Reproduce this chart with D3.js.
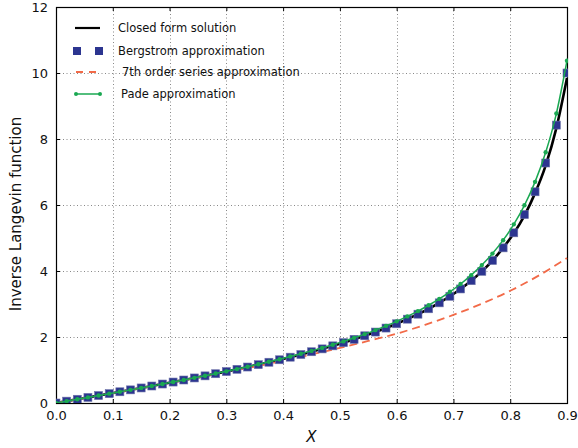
<!DOCTYPE html>
<html>
<head>
<meta charset="utf-8">
<script src="https://cdn.jsdelivr.net/npm/d3@7"></script>
<style>
  body { margin: 0; background: #fff; }
  svg { display: block; font-family: "DejaVu Sans", Verdana, sans-serif; }
</style>
</head>
<body>
<div id="chart"></div>
<script>
// sample points (x = i * 0.01875)
var xPts = [0, 0.01875, 0.0375, 0.05625, 0.075, 0.09375, 0.1125, 0.13125, 0.15, 0.16875,
  0.1875, 0.20625, 0.225, 0.24375, 0.2625, 0.28125, 0.3, 0.31875, 0.3375, 0.35625,
  0.375, 0.39375, 0.4125, 0.43125, 0.45, 0.46875, 0.4875, 0.50625, 0.525, 0.54375,
  0.5625, 0.58125, 0.6, 0.61875, 0.6375, 0.65625, 0.675, 0.69375, 0.7125, 0.73125,
  0.75, 0.76875, 0.7875, 0.80625, 0.825, 0.84375, 0.8625, 0.88125, 0.9];

var closedForm = [0, 0.056, 0.113, 0.169, 0.226, 0.283, 0.340, 0.398, 0.456, 0.515,
  0.575, 0.635, 0.697, 0.759, 0.822, 0.887, 0.953, 1.021, 1.090, 1.161,
  1.235, 1.310, 1.388, 1.469, 1.553, 1.641, 1.732, 1.828, 1.930, 2.037,
  2.150, 2.271, 2.401, 2.540, 2.691, 2.855, 3.035, 3.234, 3.456, 3.706,
  3.990, 4.318, 4.700, 5.140, 5.680, 6.360, 7.200, 8.330, 9.850];

var bergstrom = [0, 0.056, 0.113, 0.169, 0.226, 0.283, 0.340, 0.398, 0.456, 0.515,
  0.575, 0.635, 0.697, 0.759, 0.822, 0.887, 0.953, 1.021, 1.090, 1.161,
  1.235, 1.310, 1.388, 1.469, 1.553, 1.640, 1.732, 1.828, 1.930, 2.037,
  2.150, 2.271, 2.401, 2.540, 2.691, 2.855, 3.035, 3.234, 3.456, 3.706,
  3.990, 4.318, 4.701, 5.157, 5.710, 6.400, 7.273, 8.421, 10.000];

var pade = [0, 0.056, 0.113, 0.169, 0.226, 0.283, 0.340, 0.398, 0.457, 0.516,
  0.576, 0.637, 0.699, 0.762, 0.826, 0.892, 0.959, 1.028, 1.099, 1.172,
  1.248, 1.326, 1.407, 1.491, 1.579, 1.670, 1.766, 1.867, 1.975, 2.088,
  2.208, 2.337, 2.475, 2.624, 2.785, 2.962, 3.155, 3.369, 3.607, 3.875,
  4.179, 4.528, 4.934, 5.414, 5.991, 6.701, 7.598, 8.771, 10.374];

// 7th order series
var seriesX = [0, 0.1, 0.2, 0.3, 0.35, 0.4, 0.45, 0.5, 0.55, 0.6, 0.65, 0.7, 0.75, 0.8, 0.85, 0.9];
var seriesY = [0, 0.30, 0.61, 0.94, 1.10, 1.28, 1.47, 1.67, 1.88, 2.10, 2.37, 2.67, 3.01, 3.40, 3.86, 4.39];

var xTicks = [0, 0.1, 0.2, 0.3, 0.4, 0.5, 0.6, 0.7, 0.8, 0.9];
var yTicks = [0, 2, 4, 6, 8, 10, 12];

var legendLabels = ["Closed form solution", "Bergstrom approximation",
  "7th order series approximation", "Pade approximation"];

var colBlack = "#000", colBlue = "#2c3590", colRed = "#f26a48", colGreen = "#1aa852";

var W = 578, H = 448;
var margin = {top: 7, right: 11, bottom: 45, left: 56},
    width = W - margin.left - margin.right,
    height = H - margin.top - margin.bottom;

var svg = d3.select("#chart")
  .append("svg")
    .attr("width", W)
    .attr("height", H);

var g = svg.append("g")
    .attr("transform", "translate(" + margin.left + "," + margin.top + ")");

var x = d3.scaleLinear().domain([0, 0.9]).range([0, width]);
var y = d3.scaleLinear().domain([0, 12]).range([height, 0]);

// dotted grid
g.append("g")
  .selectAll("line")
  .data(xTicks.slice(1, -1))
  .join("line")
    .attr("x1", d => Math.round(x(d)) + 0.5).attr("x2", d => Math.round(x(d)) + 0.5)
    .attr("y1", 0).attr("y2", height)
    .attr("stroke", "#888").attr("stroke-dasharray", "1,2.5");
g.append("g")
  .selectAll("line")
  .data(yTicks.slice(1, -1))
  .join("line")
    .attr("y1", d => Math.round(y(d)) + 0.5).attr("y2", d => Math.round(y(d)) + 0.5)
    .attr("x1", 0).attr("x2", width)
    .attr("stroke", "#888").attr("stroke-dasharray", "1,2.5");

// axes with inward ticks
var fmtX = d3.format(".1f");
g.append("g")
    .attr("transform", "translate(0," + height + ")")
    .call(d3.axisBottom(x).tickValues(xTicks).tickFormat(fmtX).tickSizeInner(-4).tickSizeOuter(0).tickPadding(8));
g.append("g")
    .call(d3.axisLeft(y).tickValues(yTicks).tickFormat(d3.format("d")).tickSizeInner(-4).tickSizeOuter(0).tickPadding(8));
g.append("g")
    .call(d3.axisTop(x).tickValues(xTicks).tickFormat("").tickSizeInner(-4).tickSizeOuter(0));
g.append("g")
    .attr("transform", "translate(" + width + ",0)")
    .call(d3.axisRight(y).tickValues(yTicks).tickFormat("").tickSizeInner(-4).tickSizeOuter(0));

g.selectAll(".domain").remove();
g.selectAll(".tick line").attr("stroke", "#000");
g.selectAll(".tick text")
    .attr("font-family", "DejaVu Sans")
    .attr("font-size", 13)
    .attr("fill", "#111");

g.append("rect")
    .attr("x", 0.5).attr("y", 0.5)
    .attr("width", width).attr("height", height)
    .attr("fill", "none").attr("stroke", "#000").attr("stroke-width", 1.2);

g.append("clipPath").attr("id", "clip")
  .append("rect").attr("x", 0).attr("y", -4).attr("width", width + 1).attr("height", height + 4);

var plot = g.append("g").attr("clip-path", "url(#clip)");

var line = d3.line()
    .x((d, i) => x(xPts[i]))
    .y(d => y(d))
    .curve(d3.curveMonotoneX);

// closed form
plot.append("path")
    .datum(closedForm)
    .attr("fill", "none")
    .attr("stroke", colBlack)
    .attr("stroke-width", 2.6)
    .attr("d", line);

// series (dashed)
plot.append("path")
    .datum(seriesY)
    .attr("fill", "none")
    .attr("stroke", colRed)
    .attr("stroke-width", 1.8)
    .attr("stroke-dasharray", "8,5")
    .attr("d", d3.line()
      .x((d, i) => x(seriesX[i]))
      .y(d => y(d))
      .curve(d3.curveMonotoneX));

// Bergstrom squares
var sq = 8;
plot.append("g")
  .selectAll("rect")
  .data(bergstrom)
  .join("rect")
    .attr("x", (d, i) => x(xPts[i]) - sq / 2)
    .attr("y", d => y(d) - sq / 2)
    .attr("width", sq).attr("height", sq)
    .attr("fill", colBlue)
    .attr("stroke", "#6d72a8").attr("stroke-width", 0.6);

// Pade line + dots
plot.append("path")
    .datum(pade)
    .attr("fill", "none")
    .attr("stroke", colGreen)
    .attr("stroke-width", 1.5)
    .attr("d", line);
plot.append("g")
  .selectAll("circle")
  .data(pade)
  .join("circle")
    .attr("cx", (d, i) => x(xPts[i]))
    .attr("cy", d => y(d))
    .attr("r", 2.2)
    .attr("fill", colGreen);

// axis titles
svg.append("text")
    .attr("x", margin.left + width / 2)
    .attr("y", 442)
    .attr("text-anchor", "middle")
    .attr("font-size", 15)
    .attr("font-style", "italic")
    .attr("fill", "#111")
    .text("X");

svg.append("text")
    .attr("transform", "translate(21,214) rotate(-90)")
    .attr("text-anchor", "middle")
    .attr("font-size", 15)
    .attr("fill", "#111")
    .text("Inverse Langevin function");

// legend
var leg = svg.append("g").attr("font-size", 11.5).attr("fill", "#111");
var legY = [28, 51, 72, 94];
var legTextX = [118, 118, 122, 121];

leg.append("line")
    .attr("x1", 75).attr("x2", 100).attr("y1", legY[0]).attr("y2", legY[0])
    .attr("stroke", colBlack).attr("stroke-width", 2.2);
leg.selectAll("rect.leg")
  .data([77, 99])
  .join("rect")
    .attr("class", "leg")
    .attr("x", d => d - 4).attr("y", legY[1] - 4)
    .attr("width", 8).attr("height", 8)
    .attr("fill", colBlue);
leg.append("line")
    .attr("x1", 76).attr("x2", 98).attr("y1", legY[2]).attr("y2", legY[2])
    .attr("stroke", colRed).attr("stroke-width", 1.8)
    .attr("stroke-dasharray", "7,6");
leg.append("line")
    .attr("x1", 76).attr("x2", 100).attr("y1", legY[3]).attr("y2", legY[3])
    .attr("stroke", colGreen).attr("stroke-width", 1.5);
leg.selectAll("circle")
  .data([76, 100])
  .join("circle")
    .attr("cx", d => d).attr("cy", legY[3]).attr("r", 2)
    .attr("fill", colGreen);

leg.selectAll("text")
  .data(legendLabels)
  .join("text")
    .attr("x", (d, i) => legTextX[i])
    .attr("y", (d, i) => legY[i] + 4)
    .text(d => d);
</script>
</body>
</html>
